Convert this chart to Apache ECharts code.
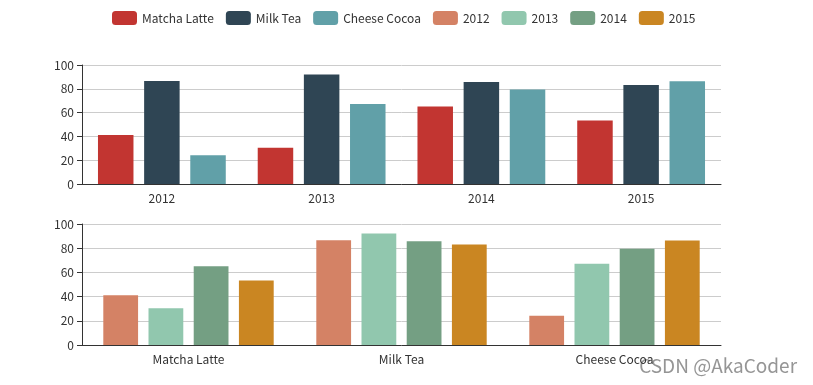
<!DOCTYPE html>
<html><head><meta charset="utf-8">
<script src="https://cdn.jsdelivr.net/npm/echarts@6/dist/echarts.min.js"></script>
<style>html,body{margin:0;padding:0;background:#fff}#c{width:813px;height:385px}</style>
</head><body><div id="c"></div>
<script>
const years = ['2012', '2013', '2014', '2015'];
const products = ['Matcha Latte', 'Milk Tea', 'Cheese Cocoa'];
const matchaLatte = [41.1, 30.4, 65.1, 53.3];
const milkTea = [86.5, 92.1, 85.7, 83.1];
const cheeseCocoa = [24.1, 67.2, 79.5, 86.4];
const yTicks = [0, 20, 40, 60, 80, 100];

const rows = [matchaLatte, milkTea, cheeseCocoa];
const source = [['product'].concat(years)].concat(products.map((p, i) => [p].concat(rows[i])));

const font = "'Microsoft YaHei', 'Noto Sans CJK SC', sans-serif";
const chart = echarts.init(document.getElementById('c'));
const barOpt = { type: 'bar', barGap: '30%', barCategoryGap: '20%' };
chart.setOption({
  animation: false,
  color: ['#c23531', '#2f4554', '#61a0a8', '#d48265', '#91c7ae', '#749f83', '#ca8622'],
  textStyle: { fontFamily: font },
  legend: { top: 6, left: 107, itemWidth: 25, itemHeight: 14, itemGap: 12, textStyle: { fontSize: 12, color: '#333', fontFamily: font } },
  dataset: { source: source },
  grid: [
    { left: 82, right: 92, top: 65, height: 119 },
    { left: 82, right: 92, top: 224, height: 121 }
  ],
  xAxis: [
    { type: 'category', gridIndex: 0, axisLine: { lineStyle: { color: '#333' } }, axisLabel: { color: '#333', fontSize: 12 } },
    { type: 'category', gridIndex: 1, axisLine: { lineStyle: { color: '#333' } }, axisLabel: { color: '#333', fontSize: 12 } }
  ],
  yAxis: [0, 1].map(g => ({
    gridIndex: g, min: yTicks[0], max: yTicks[yTicks.length - 1], interval: 20,
    axisLine: { show: true, lineStyle: { color: '#333' } }, axisTick: { show: true },
    axisLabel: { color: '#333', fontSize: 12 },
    splitLine: { lineStyle: { color: '#ccc' } }
  })),
  series: [
    Object.assign({ seriesLayoutBy: 'row' }, barOpt),
    Object.assign({ seriesLayoutBy: 'row' }, barOpt),
    Object.assign({ seriesLayoutBy: 'row' }, barOpt),
    Object.assign({ xAxisIndex: 1, yAxisIndex: 1 }, barOpt),
    Object.assign({ xAxisIndex: 1, yAxisIndex: 1 }, barOpt),
    Object.assign({ xAxisIndex: 1, yAxisIndex: 1 }, barOpt),
    Object.assign({ xAxisIndex: 1, yAxisIndex: 1 }, barOpt)
  ],
  graphic: [{
    type: 'text', right: 15, top: 355,
    style: { text: 'CSDN @AkaCoder', fontSize: 19, fontFamily: font, fill: 'rgba(130,130,130,0.85)', stroke: '#fff', lineWidth: 2 }
  }]
});
</script></body></html>
